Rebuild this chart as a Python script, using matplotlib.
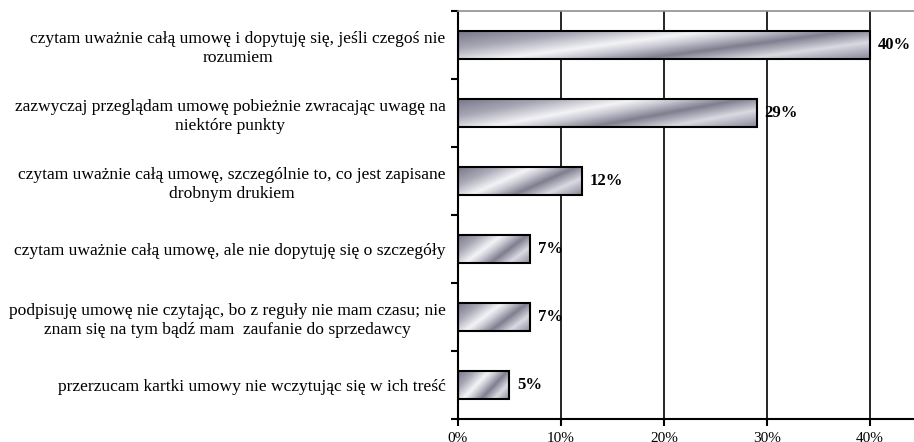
import matplotlib.pyplot as plt
import numpy as np
from matplotlib.colors import LinearSegmentedColormap
from matplotlib.ticker import FixedLocator

plt.rcParams['font.family'] = ['Liberation Serif', 'DejaVu Serif']

# answers, top to bottom
answers = [
    "czytam uważnie całą umowę i dopytuję się, jeśli czegoś nie\nrozumiem",
    "zazwyczaj przeglądam umowę pobieżnie zwracając uwagę na\nniektóre punkty",
    "czytam uważnie całą umowę, szczególnie to, co jest zapisane\ndrobnym drukiem",
    "czytam uważnie całą umowę, ale nie dopytuję się o szczegóły",
    "podpisuję umowę nie czytając, bo z reguły nie mam czasu; nie\nznam się na tym bądź mam  zaufanie do sprzedawcy",
    "przerzucam kartki umowy nie wczytując się w ich treść",
]
shares = [40, 29, 12, 7, 7, 5]
value_labels = ["40%", "29%", "12%", "7%", "7%", "5%"]
x_ticks = [0, 10, 20, 30, 40]
x_tick_labels = ["0%", "10%", "20%", "30%", "40%"]

# metallic gradient, indexed by s = 2u - v (normalised bar coordinates)
s_stops = [-1.0, -0.4, 0.2, 0.5, 0.9, 1.4, 2.0]
s_cols = ['#78788a', '#a6a6b4', '#f4f4f7', '#c8c8d2', '#7e7e8f',
          '#dadae2', '#88889a']
pos = [(s - s_stops[0]) / (s_stops[-1] - s_stops[0]) for s in s_stops]
metal = LinearSegmentedColormap.from_list("metal", list(zip(pos, s_cols)))

fig = plt.figure(figsize=(9.14, 4.42), dpi=100)
ax = fig.add_axes([458 / 914, 1 - 419 / 442, 1 - 458 / 914, (419 - 11) / 442])

n = len(answers)
ypos = np.arange(n)[::-1]
bar_h = 0.4

ax.set_xlim(0, 44.3)
ax.set_ylim(-0.5, n - 0.5)

for x in x_ticks[1:]:
    ax.axvline(x, color='black', lw=1.2, zorder=1)

uu, vv = np.meshgrid(np.linspace(0, 1, 300), np.linspace(0, 1, 60))
ss = 2 * uu - vv
for y, val in zip(ypos, shares):
    bar = ax.barh(y, val, height=bar_h, facecolor='none', edgecolor='black',
                  lw=1.5, zorder=3)[0]
    im = ax.imshow(ss, cmap=metal, vmin=-1.0, vmax=2.0, origin='lower',
                   extent=(0, val, y - bar_h / 2, y + bar_h / 2),
                   aspect='auto', interpolation='bilinear', zorder=2)
    im.set_clip_path(bar)

for y, val, lab in zip(ypos, shares, value_labels):
    ax.annotate(lab, (val, y), xytext=(5.5, 0), textcoords='offset points',
                ha='left', va='center', fontsize=12, fontweight='bold')

ax.set_xticks(x_ticks)
ax.set_xticklabels(x_tick_labels, fontsize=11)
ax.tick_params(axis='x', direction='out', length=5, width=1.5, pad=4)

# boundaries as major ticks, answers as minor tick labels
ax.yaxis.set_major_locator(FixedLocator(np.arange(-0.5, n, 1.0)))
ax.yaxis.set_major_formatter(plt.NullFormatter())
ax.set_yticks(ypos, minor=True)
ax.set_yticklabels(answers, minor=True, fontsize=12.6, multialignment='center',
                   linespacing=1.25)
ax.tick_params(axis='y', which='major', direction='out', length=5, width=1.5)
ax.tick_params(axis='y', which='minor', length=0, pad=9)

ax.spines['right'].set_visible(False)
ax.spines['top'].set_color('#909090')
ax.spines['top'].set_linewidth(1.2)
ax.spines['left'].set_linewidth(1.5)
ax.spines['bottom'].set_linewidth(1.5)

fig.savefig("out.png", dpi=100)
